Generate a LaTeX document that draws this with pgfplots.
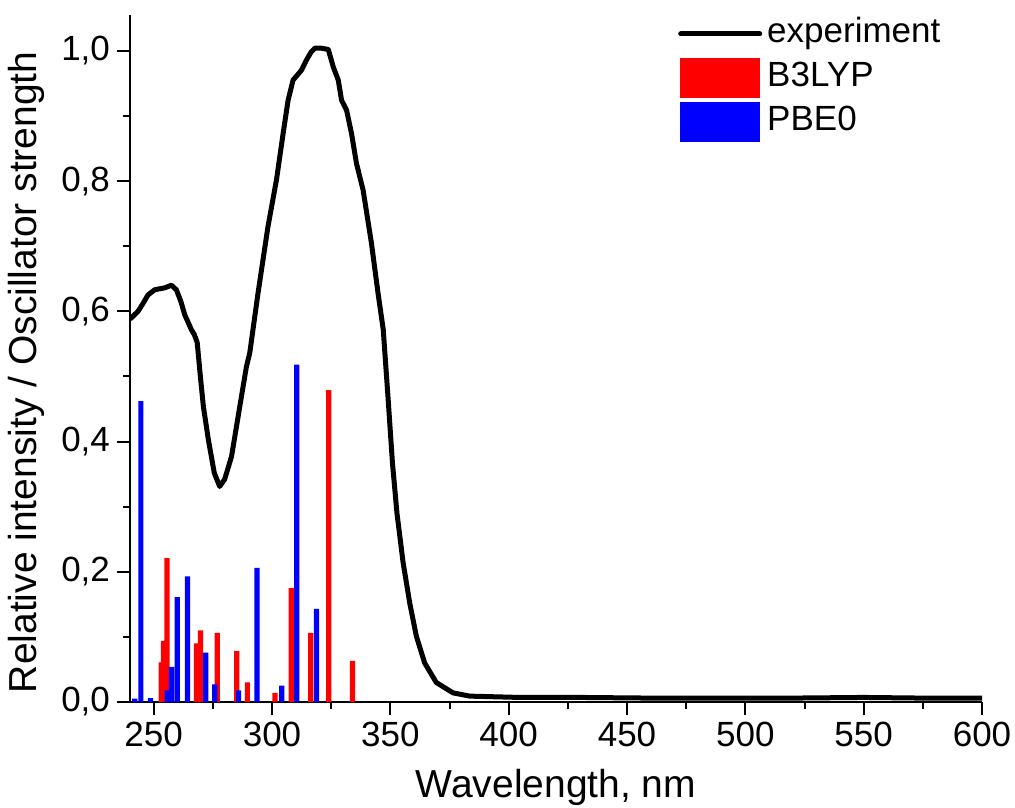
\documentclass[border=0pt]{standalone}
\usepackage{fontspec}
\setmainfont{Liberation Sans}
\usepackage{pgfplots}
\pgfplotsset{compat=1.18}
\pgfplotstableread{
x y
240.0 0.588
240.6 0.590
243.4 0.600
245.5 0.612
247.6 0.625
250.4 0.633
254.7 0.636
257.5 0.640
259.6 0.633
261.5 0.615
263.1 0.595
265.9 0.572
267.2 0.564
268.4 0.552
269.6 0.505
271.0 0.454
273.1 0.403
275.6 0.352
277.9 0.331
280.0 0.342
282.9 0.377
286.4 0.454
289.2 0.515
290.6 0.536
294.1 0.628
298.3 0.730
301.9 0.802
304.7 0.873
306.8 0.924
308.9 0.955
312.4 0.970
314.6 0.986
316.5 0.998
318.1 1.004
320.9 1.004
323.8 1.002
325.9 0.975
328.0 0.955
329.4 0.924
331.5 0.909
333.6 0.873
335.7 0.827
338.5 0.786
342.0 0.705
344.8 0.628
347.0 0.572
349.0 0.469
350.9 0.367
352.8 0.290
355.4 0.214
358.2 0.152
361.0 0.101
364.5 0.060
369.4 0.030
376.5 0.014
383.6 0.009
404.7 0.007
430.0 0.007
460.0 0.006
490.0 0.006
520.0 0.006
550.0 0.007
575.0 0.006
600.0 0.006
}\expdata
\pgfplotstableread{
x y
253.2 0.061
254.1 0.094
255.6 0.221
268.1 0.090
269.8 0.110
276.9 0.106
285.1 0.078
289.6 0.030
301.3 0.014
308.1 0.175
316.4 0.106
324.0 0.479
334.0 0.063
}\bthreelyp
\pgfplotstableread{
x y
242.0 0.005
244.6 0.462
248.7 0.006
255.7 0.018
257.5 0.054
260.0 0.161
264.3 0.193
272.0 0.076
275.8 0.027
285.9 0.018
293.7 0.206
304.1 0.025
310.5 0.518
318.8 0.143
}\pbezero
\begin{document}
\begin{tikzpicture}
\path[use as bounding box] (-65pt,-52.5pt) rectangle (442.5pt,351pt);
\begin{axis}[
  scale only axis, width=426pt, height=343.5pt,
  xmin=240, xmax=600, ymin=0, ymax=1.055,
  axis x line*=bottom, axis y line*=left,
  axis line style={line width=1pt},
  tick align=outside,
  major tick length=6.5pt, minor tick length=3.5pt,
  every tick/.style={line width=1pt, black},
  xtick={250,300,350,400,450,500,550,600},
  minor xtick={275,325,375,425,475,525,575},
  ytick={0,0.2,0.4,0.6,0.8,1.0},
  minor ytick={0.1,0.3,0.5,0.7,0.9},
  /pgf/number format/assume math mode=true,
  tick label style={font=\fontsize{17.5}{21}\selectfont},
  yticklabel style={/pgf/number format/.cd, fixed, fixed zerofill, precision=1, use comma},
  xticklabel style={/pgf/number format/.cd, set thousands separator={}},
  label style={font=\fontsize{19.5}{23}\selectfont},
  xlabel={Wavelength, nm},
  ylabel={Relative intensity / Oscillator strength},
  xlabel style={at={(axis description cs:0.5,-0.1383)}, anchor=base},
  ylabel style={at={(axis description cs:-0.0915,0.48)}, anchor=south},
  legend style={draw=none, fill=none, at={(axis description cs:0.643,1.005)}, anchor=north west,
    font=\fontsize{17.5}{21}\selectfont, row sep=0pt, inner sep=0pt,
    nodes={inner sep=2.5pt, text height=13pt, text depth=4pt}},
  legend cell align=left,
]
\addlegendimage{legend image code/.code={\draw[line width=2.5pt, line cap=round] (0pt,0pt) -- (39.5pt,0pt);}}
\addlegendentry{experiment}
\addlegendimage{legend image code/.code={\fill[red] (0pt,-9.75pt) rectangle (39.5pt,9.75pt);}}
\addlegendentry{B3LYP}
\addlegendimage{legend image code/.code={\fill[blue] (0pt,-9.75pt) rectangle (39.5pt,9.75pt);}}
\addlegendentry{PBE0}
\addplot[ybar, bar width=2.2, bar shift=0pt, fill=red, draw=none, forget plot] table[x=x,y=y] {\bthreelyp};
\addplot[ybar, bar width=2.2, bar shift=0pt, fill=blue, draw=none, forget plot] table[x=x,y=y] {\pbezero};
\addplot[black, line width=2.5pt, line join=round, forget plot] table[x=x,y=y] {\expdata};
\end{axis}
\end{tikzpicture}
\end{document}
